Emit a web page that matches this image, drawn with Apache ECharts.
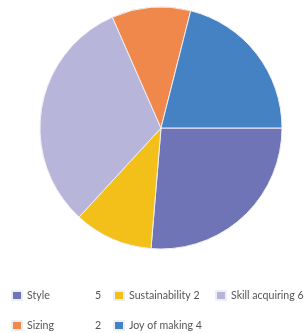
<!DOCTYPE html>
<html>
<head>
<meta charset="utf-8">
<script src="https://cdn.jsdelivr.net/npm/echarts@6/dist/echarts.min.js"></script>
<style>
  html, body { margin: 0; padding: 0; background: #fff; }
  #chart { width: 306px; height: 333px; }
</style>
</head>
<body>
<div id="chart"></div>
<script>
var categories = ['Style', 'Sustainability', 'Skill acquiring', 'Sizing', 'Joy of making'];
var values = [5, 2, 6, 2, 4];
var colors = ['#6f74b7', '#f3c019', '#b8b5db', '#f0874b', '#4582c4'];

// legend laid out in three columns, top to bottom
var legendColumns = [
    ['Style', 'Sizing'],
    ['Sustainability', 'Joy of making'],
    ['Skill acquiring']
];
var columnLeft = [11, 113, 215];

var chart = echarts.init(document.getElementById('chart'));

var pieData = categories.map(function (name, i) {
    return { name: name, value: values[i] };
});

var textBase = { fontFamily: 'Lato', fontSize: 10.6, color: '#555' };

var legends = legendColumns.map(function (names, col) {
    return {
        orient: 'vertical',
        left: columnLeft[col],
        top: 290,
        padding: 0,
        itemWidth: 10,
        itemHeight: 9,
        itemGap: 19,
        icon: 'rect',
        textStyle: {
            fontFamily: 'Lato',
            fontSize: 10.6,
            color: '#555',
            rich: {
                fixed: Object.assign({ width: 68 }, textBase),
                name: textBase,
                val: textBase
            }
        },
        formatter: function (name) {
            var v = values[categories.indexOf(name)];
            if (col === 0) {
                return '{fixed|' + name + '}{val|' + v + '}';
            }
            return '{name|' + name + '}{val| ' + v + '}';
        },
        data: names
    };
});

chart.setOption({
    animation: false,
    color: colors,
    legend: legends,
    series: [{
        type: 'pie',
        center: [161, 128],
        radius: 121,
        startAngle: 0,
        clockwise: true,
        label: { show: false },
        labelLine: { show: false },
        itemStyle: { borderColor: '#eeeef5', borderWidth: 1 },
        emphasis: { disabled: true },
        data: pieData
    }]
});
</script>
</body>
</html>
